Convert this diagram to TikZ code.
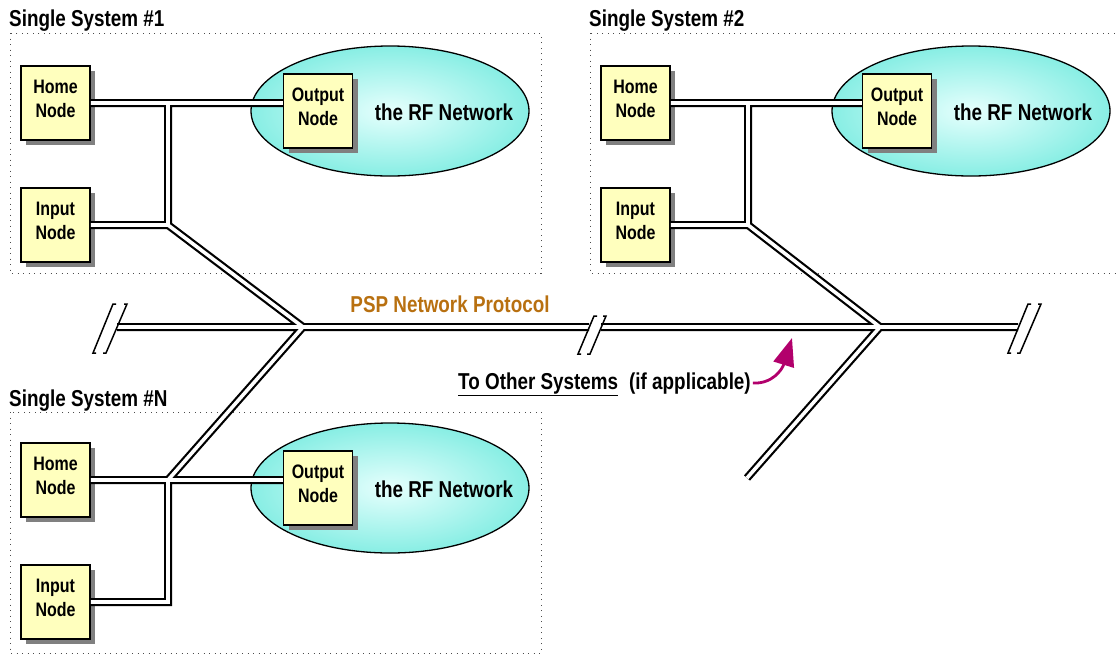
\documentclass[tikz,border=0pt]{standalone}
\usepackage{fontspec}
\setmainfont{Liberation Sans}[FakeStretch=0.82]
\usetikzlibrary{shapes.geometric,shadows,arrows.meta}

\definecolor{nodefill}{RGB}{255,255,190}
\definecolor{rfedge}{RGB}{136,238,228}
\definecolor{rfcenter}{RGB}{230,255,253}
\definecolor{pspbrown}{RGB}{184,112,16}
\definecolor{arrowmag}{RGB}{178,0,108}

\tikzset{
  nodebox/.style={draw, line width=1.5pt, fill=nodefill, minimum width=69pt,
    minimum height=74pt, inner sep=0pt, align=center, text depth=8pt,
    font=\fontsize{19.5}{24}\selectfont\bfseries,
    drop shadow={shadow xshift=5pt, shadow yshift=-5pt, fill=black!50, opacity=1}},
  rfnet/.style={ellipse, draw, line width=1.3pt, minimum width=278pt,
    minimum height=130pt, inner sep=0pt, shading=radial,
    inner color=rfcenter, outer color=rfedge},
  txt/.style={inner sep=2pt, font=\fontsize{23}{27}\selectfont\bfseries},
  sysbox/.style={draw=black!70, line width=1pt, dash pattern=on 1pt off 4.5pt},
  wire/.style={draw, line width=2.2pt, double=white, double distance=3.6pt},
  brk/.style={draw, line width=1.5pt},
  hintarrow/.style={draw=arrowmag, line width=2.8pt,
    -{Triangle[length=28pt,width=21pt]}},
}

\begin{document}
\begin{tikzpicture}[x=1pt,y=-1pt]
  \useasboundingbox (0,0) rectangle (1116,654);

  % system frames
  \draw[sysbox] (10,33) rectangle (541,273);
  \draw[sysbox] (590,33) rectangle (1121,273);
  \draw[sysbox] (10,412) rectangle (541,653);
  \node[txt, anchor=base west, inner sep=0pt] (sys1) at (9,26) {Single System \#1};
  \node[txt, anchor=base west, inner sep=0pt] (sys2) at (589,26) {Single System \#2};
  \node[txt, anchor=base west, inner sep=0pt] (sysN) at (9,406) {Single System \#N};

  % system 1
  \node[nodebox] (home1) at (55.5,103) {Home\\Node};
  \node[nodebox] (in1) at (55.5,225) {Input\\Node};
  \node[rfnet] (rf1) at (390,111) {};
  \node[nodebox] (out1) at (318,111) {Output\\Node};
  \node[txt, anchor=base] (rft1) at (444,120) {the RF Network};

  % system 2
  \node[nodebox] (home2) at (635.5,103) {Home\\Node};
  \node[nodebox] (in2) at (635.5,225) {Input\\Node};
  \node[rfnet] (rf2) at (971,111) {};
  \node[nodebox] (out2) at (897,111) {Output\\Node};
  \node[txt, anchor=base] (rft2) at (1023,120) {the RF Network};

  % system N
  \node[nodebox] (homeN) at (55.5,480) {Home\\Node};
  \node[nodebox] (inN) at (55.5,602) {Input\\Node};
  \node[rfnet] (rfN) at (390,488) {};
  \node[nodebox] (outN) at (318,488) {Output\\Node};
  \node[txt, anchor=base] (rftN) at (444,497) {the RF Network};

  % bus points
  \coordinate (c1) at (168,225);
  \coordinate (c2) at (748,225);
  \coordinate (cN) at (168,480);
  \coordinate (j1) at (303,327);
  \coordinate (j2) at (880,327);
  \coordinate (e2) at (747,478);
  \coordinate (busL) at (117,327);
  \coordinate (brk1) at (589,327);
  \coordinate (brk2) at (601,327);
  \coordinate (busR) at (1018,327);

  % all wires in one path so the joints merge
  \draw[wire]
    (busL) -- (brk1) (brk2) -- (busR)
    (home1.east) -- (home1.east -| out1.west)
    (c1 |- home1.east) -- (c1) -- (j1)
    (in1.east) -- (c1)
    (home2.east) -- (home2.east -| out2.west)
    (c2 |- home2.east) -- (c2) -- (j2)
    (in2.east) -- (c2)
    (j2) -- (e2)
    (homeN.east) -- (homeN.east -| outN.west)
    (j1) -- (cN)
    (inN.east) -- (cN |- inN.east) -- (cN);

  % break marks
  \draw[brk] (96,353) -- (93,353) -- (113,304) -- (116,304);
  \draw[brk] (103,353) -- (106,353) -- (127,304) -- (124,304);
  \draw[brk] (581,354) -- (578,354) -- (594,316) -- (597,316);
  \draw[brk] (587,354) -- (590,354) -- (606,316) -- (603,316);
  \draw[brk] (1011,353) -- (1008,353) -- (1028,304) -- (1031,304);
  \draw[brk] (1017,353) -- (1020,353) -- (1041,304) -- (1038,304);

  \node[txt, text=pspbrown, anchor=base] (psp) at (450,312) {PSP Network Protocol};
  \node[txt, anchor=base west] (other) at (456,389) {\underline{To Other Systems}};
  \node[txt, anchor=base west] (app) at (627,389) {(if applicable)};
  \coordinate (tip) at (792,338);
  \draw[hintarrow] (app.east) .. controls (772,384) and (782,370) .. (tip);
\end{tikzpicture}
\end{document}
